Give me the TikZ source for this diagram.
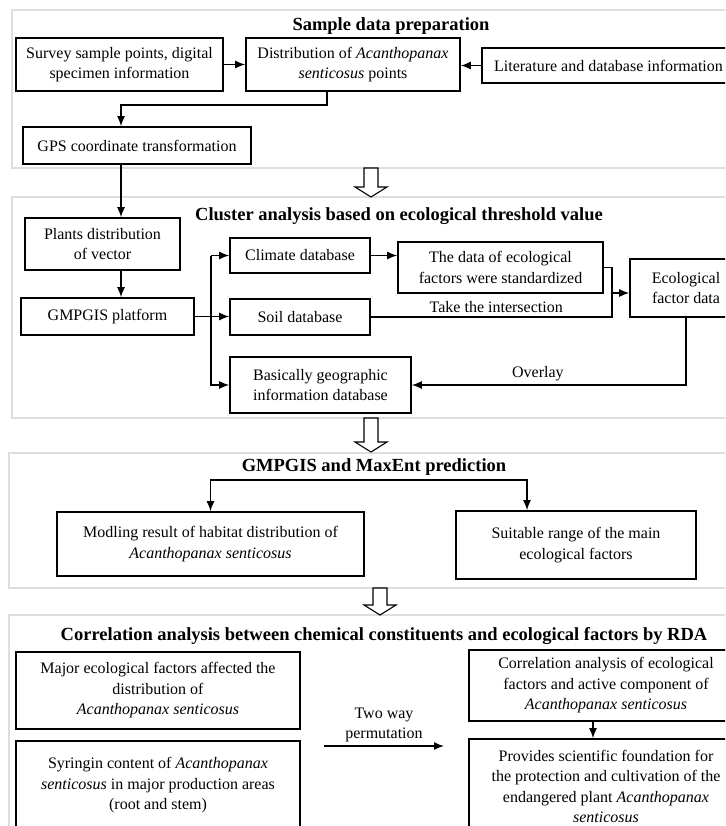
\documentclass[tikz,border=0pt]{standalone}
\usepackage{fontspec}
\setmainfont{Liberation Serif}
\usetikzlibrary{arrows.meta}

\begin{document}
\begin{tikzpicture}[x=1pt, y=-1pt, ->, >={Latex[length=10pt,width=8pt]}, line width=1.4pt,
    font=\fontsize{16}{20.5}\selectfont]
    \tikzstyle{box}=[draw, line width=1.6pt, inner sep=0pt, align=center]
    \tikzstyle{panel}=[draw=black!13, line width=1.2pt, fill=white]
    \tikzstyle{heading}=[font=\fontsize{18.5}{22}\selectfont\bfseries]
    \tikzstyle{hollow}=[draw, line width=1.1pt, fill=white, line join=miter]
    \useasboundingbox (0, 0) rectangle (725, 826);
    \clip (0, 0) rectangle (725, 826);

    % the four stages
    \draw[panel, -] (12, 10) rectangle (745, 168);
    \draw[panel, -] (12, 197) rectangle (745, 418);
    \draw[panel, -] (9, 453) rectangle (745, 588);
    \draw[panel, -] (9, 615) rectangle (745, 840);
    \foreach \x/\ya/\yb in {371/168/197, 371/418/452, 380/588/615}
        \draw[hollow, -] (\x-7, \ya) -- (\x+7, \ya) -- (\x+7, \yb-10) -- (\x+16, \yb-10)
            -- (\x, \yb) -- (\x-16, \yb-10) -- (\x-7, \yb-10) -- cycle;

    \node[heading] (t1) at (391, 26){Sample data preparation};
    \node[heading] (t2) at (399, 216){Cluster analysis based on ecological threshold value};
    \node[heading] (t3) at (374, 467){GMPGIS and MaxEnt prediction};
    \node[heading] (t4) at (384, 636){Correlation analysis between chemical constituents and ecological factors by RDA};

    % sample data
    \node[box, minimum width=207, minimum height=53] (survey) at (119.5, 64.5){Survey sample points, digital\\specimen information};
    \node[box, minimum width=214, minimum height=53] (dist) at (353, 64.5){Distribution of \textit{Acanthopanax}\\\textit{senticosus} points};
    \node[box, minimum width=253, minimum height=35] (lit) at (608.5, 65.5){Literature and database information};
    \node[box, minimum width=228, minimum height=37] (gps) at (137, 145.5){GPS coordinate transformation};

    % cluster analysis
    \node[box, minimum width=155, minimum height=52] (plant) at (102.5, 244){Plants distribution\\of vector};
    \node[box, minimum width=173, minimum height=37] (gmp) at (107.5, 316.5){GMPGIS platform};
    \node[box, minimum width=140, minimum height=35] (climate) at (300, 255.5){Climate database};
    \node[box, minimum width=140, minimum height=36] (soil) at (300, 317){Soil database};
    \node[box, minimum width=181, minimum height=56] (basic) at (320.5, 385){Basically geographic\\information database};
    \node[box, minimum width=205, minimum height=51] (data) at (500.5, 267.5){The data of ecological\\factors were standardized};
    \node[box, minimum width=112, minimum height=58] (eco) at (686, 288){Ecological\\factor data};

    % prediction
    \node[box, minimum width=307, minimum height=64] (model) at (210.5, 544){Modling result of habitat distribution of\\\textit{Acanthopanax senticosus}};
    \node[box, minimum width=240, minimum height=68] (suit) at (576, 545){Suitable range of the main\\ecological factors};

    % correlation
    \node[box, minimum width=284, minimum height=77] (major) at (158, 690.5){Major ecological factors affected the\\distribution of\\\textit{Acanthopanax senticosus}};
    \node[box, minimum width=284, minimum height=89] (syr) at (158, 785.5){Syringin content of \textit{Acanthopanax}\\\textit{senticosus} in major production areas\\(root and stem)};
    \node[box, minimum width=274, minimum height=71] (corr) at (606, 685.5){Correlation analysis of ecological\\factors and active component of\\\textit{Acanthopanax senticosus}};
    \node[box, minimum width=274, minimum height=95] (prov) at (606, 786.5){Provides scientific foundation for\\the protection and cultivation of the\\endangered plant \textit{Acanthopanax}\\\textit{senticosus}};

    \coordinate (spine) at (121, 0);
    \coordinate (dtap) at (327, 105);
    \coordinate (trunk) at (211, 0);
    \coordinate (merge) at (612, 293);
    \coordinate (split) at (527, 480);
    \coordinate (pa) at (324, 746);
    \coordinate (pb) at (444, 746);

    \draw (survey) -- (dist);
    \draw (lit.west) -- (lit.west -| dist.east);
    \draw (dist.south -| dtap) -- (dtap) -| (gps.north -| spine);
    \draw (gps.south -| spine) -- (plant.north -| spine);
    \draw (plant.south -| spine) -- (gmp.north -| spine);
    \draw (gmp.east) -- (gmp.east -| soil.west);
    \draw (climate.west -| trunk) -- (climate.west);
    \draw (climate.west -| trunk) |- (basic.west);
    \draw (climate.east) -- (climate.east -| data.west);
    \draw[-] (data.east) -| (merge);
    \draw[-] (soil.east) -| node[pos=0.26, above]{Take the intersection} (merge);
    \draw (merge) -- (merge -| eco.west);
    \draw (eco.south) |- node[pos=0.77, above]{Overlay} (basic.east);
    \draw[<->] (model.north) |- (split) -- (suit.north -| split);
    \draw ([xshift=-13pt]corr.south) -- ([xshift=-13pt]prov.north);
    \draw (pa) -- node[above, align=center]{Two way\\permutation} (pb);
\end{tikzpicture}
\end{document}
